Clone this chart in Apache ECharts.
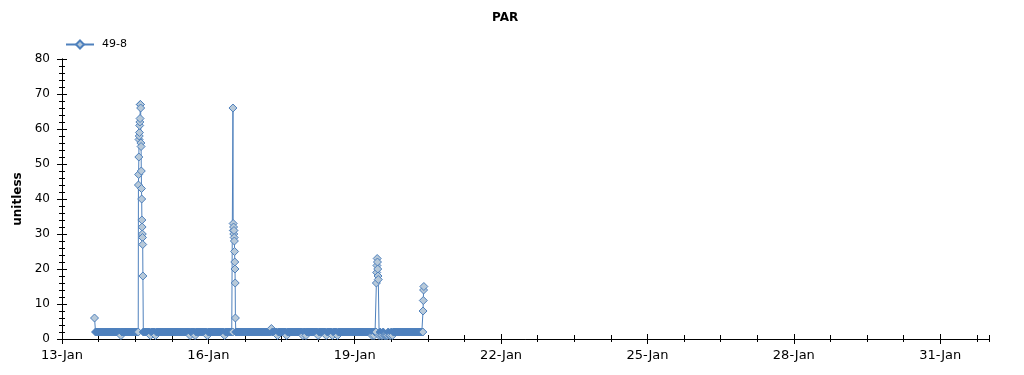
<!DOCTYPE html>
<html>
<head>
<meta charset="utf-8">
<script src="https://cdn.jsdelivr.net/npm/echarts@6/dist/echarts.min.js"></script>
<style>
html,body{margin:0;padding:0;background:#fff;}
#chart{width:1024px;height:375px;}
</style>
</head>
<body>
<div id="chart"></div>
<script>
// ---- data (x in hours since 13-Jan 00:00) ----
const seriesName = '49-8';
const xTickDays = [0, 3, 6, 9, 12, 15, 18];
const xTickLabels = ['13-Jan', '16-Jan', '19-Jan', '22-Jan', '25-Jan', '28-Jan', '31-Jan'];

const segStartHour = [16, 37.6, 40, 84.1, 85.5, 154.65, 156, 177.6];
const segStepMin   = [30, 6, 30, 6, 30, 8, 30, 8];
const segKind      = ['base', 'peak', 'base', 'peak', 'base', 'peak', 'base', 'peak'];

const seg1Values = [6,2,2,2,2,2,2,2,2,2, 2,2,2,2,2,2,2,2,2,2, 2,2,2,2,2,2,1,2,2,2, 2,2,2,2,2,2,2,2,2,2, 2,2,2,2];
const spike1Values = [44,47,52,57,58,59,61,62,63,67,67,66,56,55,48,43,40,34,32,30,29,27,18];
const seg3Values = [2,2,2,2,2,2,2,1,2,2, 2,2,1,2,2,2,2,2,2,2, 2,2,2,2,2,2,2,2,2,2, 2,2,2,2,2,2,2,2,2,2,
                    2,2,2,2,2,2,1,2,2,2, 2,1,2,2,2,2,2,2,2,2, 2,2,2,1,2,2,2,2,2,2, 2,2,2,2,2,2,2,2,2,2,
                    1,2,2,2,2,2,2,2,2];
const spike2Values = [66,33,31,32,30,31,29,28,25,22,20,16,6];
const seg5Values = [2,2,2,2,2,2,2,2,2,2, 2,2,2,2,2,2,2,2,2,2, 2,2,2,2,2,2,2,2,2,2, 2,2,2,2,2,3,2,2,2,2,
                    2,1,2,2,2,2,2,2,2,2, 1,2,2,2,2,2,2,2,2,2, 2,2,2,2,2,2,1,2,2,1, 2,2,2,2,2,2,2,2,2,2,
                    2,1,2,2,2,2,2,2,2,1, 2,2,2,2,2,1,2,2,2,2, 1,2,2,2,2,2,2,2,2,2, 2,2,2,2,2,2,2,2,2,2,
                    2,2,2,2,2,2,2,2,2,2, 2,2,2,2,1,2,1,2,2];
const spike3Values = [16,19,21,23,22,20,18,17];
const seg7Values = [1,2,1,1,2,1,1,1,1,2, 1,1,2,1,2,2,2,2,2,2, 2,2,2,2,2,2,2,2,2,2, 2,2,2,2,2,2,2,2,2,2, 2,2,2,2];
const spike4Values = [8,11,14,15];

const segValues = [seg1Values, spike1Values, seg3Values, spike2Values, seg5Values, spike3Values, seg7Values, spike4Values];

const FONT = 'DejaVu Sans';
const BLUE = '#4f81bd';
const FILL = '#b7c9d9';

// build [dayOffset, value] items; densely overlapping baseline markers read as a solid band
const points = [];
segValues.forEach((vals, s) => {
  vals.forEach((v, i) => {
    const h = segStartHour[s] + i * segStepMin[s] / 60;
    const item = {value: [h / 24, v]};
    if (segKind[s] === 'base' && v === 2 && i < vals.length - 1) {
      item.itemStyle = {color: BLUE};
    }
    points.push(item);
  });
});

const G = {left: 62, right: 35, top: 59, bottom: 36, containLabel: false, outerBoundsMode: 'none'};
const xBase = {type: 'value', min: 0, max: 19, interval: 3, splitLine: {show: false}};
const yBase = {type: 'value', min: 0, max: 80, interval: 10, splitLine: {show: false}};
const black = {color: '#000', width: 1};

const chart = echarts.init(document.getElementById('chart'), null, {renderer: 'canvas'});
chart.setOption({
  animation: false,
  backgroundColor: '#fff',
  title: {
    text: 'PAR', left: 492, top: 12, padding: 0,
    textStyle: {fontFamily: FONT, fontSize: 12, fontWeight: 'bold', color: '#000'}
  },
  legend: {
    data: [seriesName], left: 65, top: 39, padding: 0,
    itemWidth: 28, itemHeight: 10,
    textStyle: {fontFamily: FONT, fontSize: 11, color: '#000', padding: [0, 0, 0, 3]}
  },
  grid: [Object.assign({}, G), Object.assign({}, G), Object.assign({}, G)],
  xAxis: [
    Object.assign({}, xBase, {
      gridIndex: 0, position: 'bottom',
      axisLine: {show: true, lineStyle: black},
      axisTick: {show: true, inside: false, length: 5, lineStyle: black, customValues: xTickDays},
      axisLabel: {show: true, margin: 10, customValues: xTickDays, color: '#000', fontFamily: FONT, fontSize: 13,
        formatter: v => { const k = xTickDays.indexOf(Math.round(v)); return k >= 0 ? xTickLabels[k] : ''; }}
    }),
    Object.assign({}, xBase, {
      gridIndex: 0, position: 'top',
      axisLine: {show: true, lineStyle: black},
      axisTick: {show: true, inside: true, length: 5, lineStyle: black, customValues: xTickDays},
      axisLabel: {show: false}
    }),
    Object.assign({}, xBase, {
      gridIndex: 1, position: 'bottom',
      axisLine: {show: false},
      axisTick: {show: true, inside: true, length: 5, lineStyle: black, customValues: xTickDays},
      axisLabel: {show: false}
    }),
    Object.assign({}, xBase, {
      gridIndex: 1, position: 'top', interval: 0.75,
      axisLine: {show: false},
      axisTick: {show: true, inside: true, length: 3, lineStyle: black},
      axisLabel: {show: false}
    }),
    Object.assign({}, xBase, {
      gridIndex: 2, position: 'bottom', interval: 0.75,
      axisLine: {show: false},
      axisTick: {show: true, inside: true, length: 4, lineStyle: black},
      axisLabel: {show: false}
    }),
    Object.assign({}, xBase, {gridIndex: 2, position: 'top', show: false})
  ],
  yAxis: [
    Object.assign({}, yBase, {
      gridIndex: 0, position: 'left',
      name: 'unitless', nameLocation: 'middle', nameGap: 36, nameRotate: 90,
      nameTextStyle: {fontFamily: FONT, fontSize: 12, fontWeight: 'bold', color: '#000'},
      axisLine: {show: true, lineStyle: black},
      axisTick: {show: true, inside: false, length: 5, lineStyle: black},
      axisLabel: {show: true, margin: 12, color: '#000', fontFamily: FONT, fontSize: 12}
    }),
    Object.assign({}, yBase, {
      gridIndex: 0, position: 'right',
      axisLine: {show: true, lineStyle: black},
      axisTick: {show: true, inside: true, length: 5, lineStyle: black},
      minorTick: {show: true, splitNumber: 5, length: 3, lineStyle: black},
      axisLabel: {show: false}
    }),
    Object.assign({}, yBase, {
      gridIndex: 1, position: 'left',
      axisLine: {show: false},
      axisTick: {show: true, inside: true, length: 5, lineStyle: black},
      minorTick: {show: true, splitNumber: 5, length: 3, lineStyle: black},
      axisLabel: {show: false}
    }),
    Object.assign({}, yBase, {gridIndex: 1, position: 'right', show: false}),
    Object.assign({}, yBase, {gridIndex: 2, position: 'left', show: false}),
    Object.assign({}, yBase, {gridIndex: 2, position: 'right', show: false})
  ],
  series: [{
    name: seriesName,
    type: 'line',
    xAxisIndex: 0, yAxisIndex: 0,
    data: points,
    symbol: 'diamond', symbolSize: 8, showSymbol: true, showAllSymbol: true,
    lineStyle: {color: BLUE, width: 1},
    itemStyle: {color: FILL, borderColor: BLUE, borderWidth: 1},
    emphasis: {disabled: true},
    silent: true
  }]
});
</script>
</body>
</html>
